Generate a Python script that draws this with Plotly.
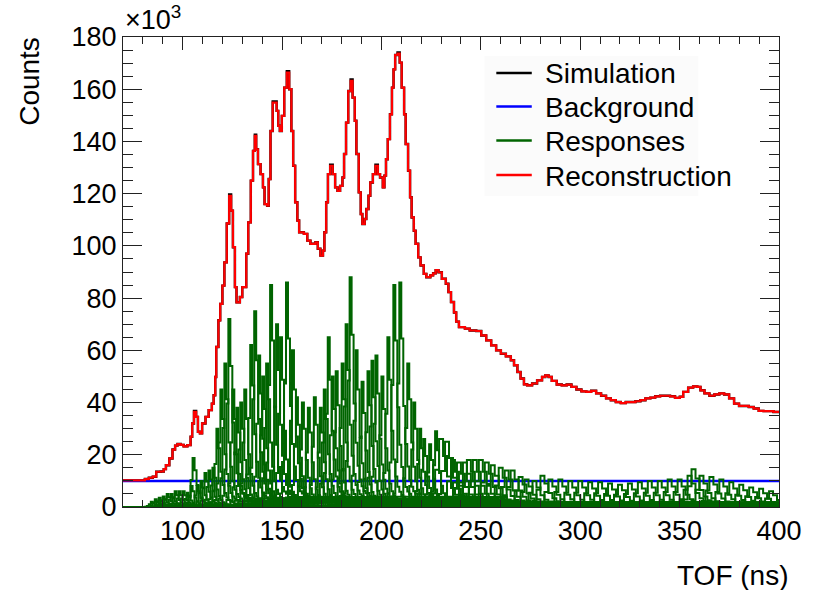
import numpy as np
import plotly.graph_objects as go

# ---------------- data (counts in units of 10^3) ----------------
recon_t = [70, 81, 83, 85, 86.7, 89, 90.5, 91.6, 93.3, 94.9, 96.2, 97.4, 99, 100.5, 102.4, 104, 104.8,
           105.7, 106.8, 107.7, 108.7, 109.8, 111.5, 113.1, 114.7, 115.6, 116.4, 116.9, 118, 118.9, 120,
           121, 122.2, 123.4, 124.4, 125.3, 126.3, 127.1, 128.8, 130, 132, 133, 134.3, 135.4, 136.3, 137,
           137.9, 139.2, 140.4, 141.2, 142.5, 143.3, 144.2, 145.3, 147.3, 148.1, 148.9, 149.9, 151.1, 152.4,
           153.6, 154.7, 155.6, 156.6, 157.7, 158.6, 161, 162.7, 164.3, 166.8, 168, 169.3, 170.6, 171.3,
           172.2, 173.1, 174.2, 175.5, 176.7, 177.9, 179.2, 180.4, 181.2, 182.2, 183.3, 184.5, 185.5, 186.6,
           187.4, 188.6, 189.6, 190.4, 191.6, 192.4, 193.5, 194.4, 195.7, 197, 198.2, 199.3, 200.7, 201.5,
           202.3, 203.2, 204.3, 205.3, 206.1, 206.9, 208.1, 209.2, 210.2, 211.4, 212.2, 213.4, 214.4, 215.2,
           216.3, 217.2, 218.5, 219.7, 221.3, 222.6, 224.6, 226, 227.3, 228.7, 230.4, 232.4, 233.7, 235,
           236.5, 237.6, 239, 242, 244.4, 247.7, 250.2, 252.7, 255.2, 257.7, 260.1, 262.6, 265.1, 266.7,
           268.4, 270, 271.7, 273.3, 275.8, 278.3, 280.8, 282.4, 284.1, 285.7, 288.2, 290.7, 293.2, 295.6,
           298.1, 300.6, 303.1, 305.5, 308, 310.5, 313, 315.4, 317.9, 320.4, 322.9, 325.4, 327.8, 330.3,
           332.8, 335.3, 337.7, 340.2, 342.7, 345.2, 347.7, 350.1, 351.8, 354.3, 356.8, 358.9, 360.5, 362.5,
           365, 367.5, 370, 372.4, 374.9, 377.4, 379.9, 382.3, 384.8, 387.3, 389.8, 392.2, 394.7, 397.2, 400]
recon_k = [10.2, 10.7, 11.2, 11.6, 13.5, 13.6, 14.5, 16, 18.6, 22, 23.5, 24.1, 23.8, 23.2, 23.7, 26.9, 32,
           36.4, 34.5, 28.8, 28.2, 32, 34.5, 37.1, 39.6, 42.8, 49.8, 61.3, 71.5, 77.8, 84.8,
           93.7, 108.6, 119.2, 113.5, 99.5, 84.2, 78.4, 80.4, 84.2, 97, 109, 125, 136.4, 142.1, 137,
           131.3, 127.5, 122.4, 116, 115.4, 125.6, 144, 154.9, 151.7, 146, 144, 149.8, 160.6, 166.4,
           160, 144, 130.7, 116.7, 109.7, 105.2, 104.6, 102, 100.8, 101.4, 98.9, 96.3, 98.2, 105.2,
           116.7, 127.5, 130.7, 127.5, 122.4, 121.1, 123, 126.2, 135.2, 147.2, 159.3, 163.2, 156.8, 147.9,
           135.2, 120.5, 112.2, 108.4, 110.3, 114.1, 119.2, 124.3, 127.5, 130.7, 127.5, 126.2, 122.4, 126.9,
           133.2, 140.9, 150.4, 160.6, 167.6, 173.1, 173.6, 170.2, 160.6, 150.4, 139, 128.8, 118.6, 110.9,
           105.8, 100.8, 95.6, 92.5, 89.3, 88, 88.7, 89.5, 90.7, 89.9, 87.4, 85.5, 82.3, 78.5,
           74.5, 71, 68.9, 68.3, 67.6, 67.4, 65.7, 63.8, 61.9, 60, 58.7, 57.7, 56.2, 54.3,
           51.7, 49.2, 47, 46.6, 47.3, 48.5, 49.8, 50.4, 49.8, 48.3, 46.9, 46.6, 46.9, 46,
           45, 44.3, 44.1, 44.5, 43.5, 42.6, 41.6, 40.9, 40.2, 39.8, 40.2, 40.2, 40.5, 40.9,
           41.6, 41.9, 42.4, 42.6, 42.6, 42.4, 41.8, 42.2, 44.1, 45.7, 46.2, 46, 44.7, 43.5,
           42.6, 43.1, 43.5, 43.1, 41.6, 39.6, 38.7, 38.7, 38.3, 37.7, 36.8, 36.7, 36.7, 36.4, 36.4]

# simulation differs from the reconstruction only slightly at the peak tops
sim_adjust_t = [105.7, 123.4, 136.3, 145.3, 152.4, 174.2, 184.5, 197, 208.1]
sim_adjust_k = [36.8, 119.7, 142.6, 155.3, 166.9, 131.1, 163.7, 131.1, 174.1]

background_k = 10.0

# individual response peaks: position (ns) and peak height (10^3)
resp_center = [84, 86, 88, 90, 92, 94, 96, 98, 100, 102, 104, 105.7, 107.5, 109, 111, 113, 115, 117,
               119, 121, 123.3, 125, 127, 129.5, 131.5, 134, 136.3, 138.5, 140.5, 142.5, 144.5, 147,
               149.5, 152.5, 155, 157.7, 160.5, 163, 166, 169, 171, 173.4, 175.5, 177.5, 180, 182,
               184.2, 187, 190, 193, 195, 197.5, 200, 203, 206.4, 209.7, 213, 216.3, 219, 221.3, 224,
               227, 230.4, 233.7, 236, 239, 242, 244, 247, 250, 253, 256.8, 260, 263, 266.7, 270, 273,
               277, 281, 285, 290, 295, 300, 305, 310, 315, 320, 325, 330, 335, 340, 345, 350, 355,
               357, 361, 366, 371, 376, 381, 386, 391, 396]
resp_amp = [2, 3, 3.5, 4, 5, 5, 6, 6, 6, 5.5, 8, 18.8, 8, 10, 13, 14, 15, 30,
            45, 55, 72, 45, 38, 40, 45, 62, 75, 58, 50, 55, 85, 70,
            65, 86, 60, 42, 40, 38, 42, 38, 45, 65, 50, 52, 55, 70,
            88, 60, 48, 52, 56, 58, 50, 65, 85, 86, 55, 40, 30, 26, 24,
            29, 26, 25, 18, 17, 17, 18, 18, 18, 17, 16, 15, 14, 14, 11.5, 10.5,
            10, 12, 10.5, 10.5, 10, 10, 9.5, 9.5, 9, 8.5, 9, 9.5, 10, 10, 10.5, 10.5, 12,
            14.5, 12, 11.5, 10.5, 9.5, 8.5, 7.5, 7, 6]
# response shape (fraction of peak per 1 ns bin), peak at index 3
resp_core = [0.06, 0.2, 0.55, 1.0, 0.75, 0.45, 0.28, 0.18, 0.12, 0.09, 0.07, 0.06]
resp_tail_levels = [0.045, 0.02]
resp_tail_lengths = [45, 400]

x_ticks = [100, 150, 200, 250, 300, 350, 400]
y_ticks = [0, 20, 40, 60, 80, 100, 120, 140, 160, 180]

legend_names = ["Simulation", "Background", "Responses", "Reconstruction"]
legend_colors = ["black", "#0000ff", "#006400", "#ff0000"]

# ---------------- figure ----------------
edges = np.arange(70, 401, 1.0)
nb = len(edges) - 1

sim_k = list(recon_k)
for t, v in zip(sim_adjust_t, sim_adjust_k):
    sim_k[recon_t.index(t)] = v

GREEN = legend_colors[2]
fig = go.Figure()
fig.add_trace(go.Scatter(x=recon_t, y=sim_k, mode="lines", line=dict(color="black", width=2.4, shape="hv"),
                         name="Simulation"))
fig.add_trace(go.Scatter(x=[70, 400], y=[background_k, background_k], mode="lines",
                         line=dict(color="#0000ff", width=2.5), name="Background"))

for i, (c, a) in enumerate(zip(resp_center, resp_amp)):
    k = 1 if c < 230 else 2
    core = np.repeat(np.array(resp_core), k)
    pk = 3 * k + k // 2
    y = np.zeros(nb)
    start = int(np.floor(c - 70)) - pk
    for j, f in enumerate(core):
        b = start + j
        if 0 <= b < nb:
            y[b] = a * f
    b = start + len(core)
    for n, (lvl, ln) in enumerate(zip(resp_tail_levels, resp_tail_lengths)):
        for _ in range(ln * k if n == 0 else ln):
            if 0 <= b < nb:
                y[b] = a * lvl
            b += 1
    yy = np.append(y, y[-1])
    fig.add_trace(go.Scatter(x=edges, y=yy, mode="lines", line=dict(color=GREEN, width=2, shape="hv"),
                             name="Responses"))

fig.add_trace(go.Scatter(x=recon_t, y=recon_k, mode="lines", line=dict(color="#ff0000", width=2.2, shape="hv"),
                         name="Reconstruction"))

FONT = "Liberation Sans, Arial, Helvetica, sans-serif"
axis_common = dict(showline=True, linecolor="#222222", linewidth=1, mirror="ticks", ticks="inside",
                   tickcolor="#222222", showgrid=False, zeroline=False,
                   tickfont=dict(family=FONT, size=27, color="black"))
fig.update_xaxes(range=[70, 400], tickvals=x_ticks, ticklen=13, tickwidth=1,
                 minor=dict(ticks="inside", ticklen=7, dtick=10, tick0=0, tickcolor="#222222", showgrid=False),
                 **axis_common)
fig.update_yaxes(range=[0, 180], tickvals=y_ticks, ticklen=19, tickwidth=1,
                 minor=dict(ticks="inside", ticklen=10, dtick=5, tick0=0, tickcolor="#222222", showgrid=False),
                 **axis_common)

# legend drawn as a box with line samples and real text labels (pixel layout -> paper coords)
L, R, T, B = 123.0, 789.0, 37.0, 507.0
def px(xp):
    return (xp - L) / (R - L)
def py(yp):
    return (B - yp) / (B - T)

shapes = [dict(type="rect", xref="paper", yref="paper", x0=px(490), x1=px(707), y0=py(196), y1=py(56),
               fillcolor="#fbfbfb", line=dict(width=0), layer="above")]
annotations = [
    dict(text="Counts", textangle=-90, xref="paper", yref="paper", x=-0.143, y=0.905,
         xanchor="center", yanchor="middle", showarrow=False, font=dict(family=FONT, size=28)),
    dict(text="TOF (ns)", xref="paper", yref="paper", x=1.017, y=-0.145,
         xanchor="right", yanchor="middle", showarrow=False, font=dict(family=FONT, size=28)),
    dict(text="×10<sup>3</sup>", xref="paper", yref="paper", x=0.0, y=1.0,
         xanchor="left", yanchor="bottom", showarrow=False, font=dict(family=FONT, size=27)),
]
row_y = [73, 106.5, 140.5, 175]
for name, col, yy in zip(legend_names, legend_colors, row_y):
    shapes.append(dict(type="line", xref="paper", yref="paper", x0=px(502), x1=px(538), y0=py(yy), y1=py(yy),
                       line=dict(color=col, width=2.5), layer="above"))
    annotations.append(dict(text=name, xref="paper", yref="paper", x=px(549), y=py(yy + 1),
                            xanchor="left", yanchor="middle", showarrow=False,
                            font=dict(family=FONT, size=28, color="black")))

fig.update_layout(
    width=814, height=590,
    margin=dict(l=123, r=25, t=37, b=83),
    paper_bgcolor="white", plot_bgcolor="white",
    font=dict(family=FONT, size=27, color="black"),
    showlegend=False,
    shapes=shapes,
    annotations=annotations,
)

fig.write_html("out.html")
